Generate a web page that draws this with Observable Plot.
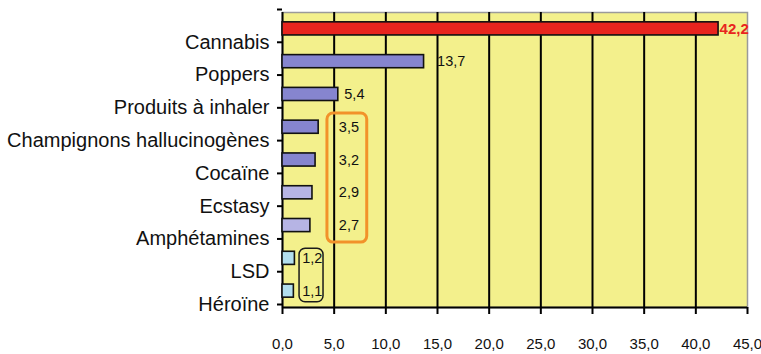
<!DOCTYPE html>
<html>
<head>
<meta charset="utf-8">
<script src="https://cdn.jsdelivr.net/npm/d3@7"></script>
<script src="https://cdn.jsdelivr.net/npm/@observablehq/plot@0.6"></script>
<style>
  body { margin: 0; background: #fff; }
  #chart svg { display: block; }
</style>
</head>
<body>
<div id="chart"></div>
<script>
// Substances, top to bottom, and their prevalence (%)
const substances = [
  "Cannabis",
  "Poppers",
  "Produits à inhaler",
  "Champignons hallucinogènes",
  "Cocaïne",
  "Ecstasy",
  "Amphétamines",
  "LSD",
  "Héroïne"
];
const prevalence = [42.2, 13.7, 5.4, 3.5, 3.2, 2.9, 2.7, 1.2, 1.1];
const xTicks = [0, 5, 10, 15, 20, 25, 30, 35, 40, 45];
const orangeGroup = ["Champignons hallucinogènes", "Cocaïne", "Ecstasy", "Amphétamines"];
const blackGroup = ["LSD", "Héroïne"];

const fmt = v => v.toFixed(1).replace(".", ",");

const rows = substances.map((name, i) => ({name, value: prevalence[i], row: i}));

const fillFor = name =>
  name === "Cannabis" ? "#e8241e"
  : ["Ecstasy", "Amphétamines"].includes(name) ? "#b6b4e4"
  : blackGroup.includes(name) ? "#b2deee"
  : "#8685cf";

// Callout boxes grouping some of the value labels into a column
const callouts = [
  {members: orangeGroup, x1: 4.35, x2: 8.2, labelAt: 5.45, padTop: 0.42, padBottom: 0.52, stroke: "#f2922a", width: 3},
  {members: blackGroup, x1: 1.65, x2: 3.97, labelAt: 1.9, padTop: 0.29, padBottom: 0.34, stroke: "#1a1a1a", width: 1.5}
];
const boxes = callouts.map(c => {
  const idx = c.members.map(m => substances.indexOf(m));
  return {...c, y1: d3.min(idx) - c.padTop, y2: d3.max(idx) + c.padBottom};
});
const calloutOf = name => callouts.find(c => c.members.includes(name));

const labels = rows.map(d => {
  const c = calloutOf(d.name);
  return {...d, lx: c ? c.labelAt : d.value, boxed: !!c};
});

const boundaries = d3.range(-0.5, substances.length, 1);

const valueText = (data, dx, extra = {}) =>
  Plot.text(data, {
    x: "lx",
    y: "row",
    dx,
    text: d => fmt(d.value),
    textAnchor: "start",
    fontSize: 14.5,
    fill: "#111",
    ...extra
  });

const chart = Plot.plot({
  width: 761,
  height: 354,
  marginLeft: 282,
  marginRight: 14,
  marginTop: 12,
  marginBottom: 47,
  style: {fontFamily: "'Liberation Sans', Arial, sans-serif", background: "#fff", overflow: "visible"},
  x: {domain: [0, 45], axis: null},
  y: {domain: [-0.5, substances.length - 0.5], reverse: true, axis: null},
  marks: [
    Plot.frame({fill: "#f3f08c", stroke: "#9a9a9a", strokeWidth: 1.5}),
    Plot.ruleX(xTicks.filter(t => t > 0 && t < 45), {stroke: "#000", strokeWidth: 2}),
    Plot.ruleX([0], {stroke: "#000", strokeWidth: 2}),
    Plot.ruleY([substances.length - 0.5], {stroke: "#000", strokeWidth: 2}),
    Plot.axisY(boundaries, {
      tickSize: 5,
      tickPadding: 8,
      strokeWidth: 2,
      tickFormat: v => (v >= 0.5 ? substances[v - 0.5] : ""),
      fontSize: 20,
      dy: -3,
      fill: "#111"
    }),
    Plot.axisX(xTicks, {
      tickSize: 7,
      tickPadding: 24,
      strokeWidth: 2,
      tickFormat: fmt,
      fontSize: 15,
      fill: "#111"
    }),
    Plot.rectX(rows, {
      x1: 0,
      x2: "value",
      y1: d => d.row - 0.2,
      y2: d => d.row + 0.2,
      fill: d => fillFor(d.name),
      stroke: "#111",
      strokeWidth: 1.6
    }),
    Plot.rect(boxes, {
      x1: "x1", x2: "x2", y1: "y1", y2: "y2",
      fill: "none",
      stroke: d => d.stroke,
      strokeWidth: d => d.width,
      rx: 6
    }),
    valueText(labels.filter(d => d.boxed), 0),
    valueText(labels.filter(d => d.name === "Poppers"), 13),
    valueText(labels.filter(d => !d.boxed && d.name !== "Poppers" && d.name !== "Cannabis"), 6),
    valueText(labels.filter(d => d.name === "Cannabis"), 1, {fontSize: 15, fontWeight: "bold", fill: "#e8241e"})
  ]
});

document.getElementById("chart").append(chart);
</script>
</body>
</html>
